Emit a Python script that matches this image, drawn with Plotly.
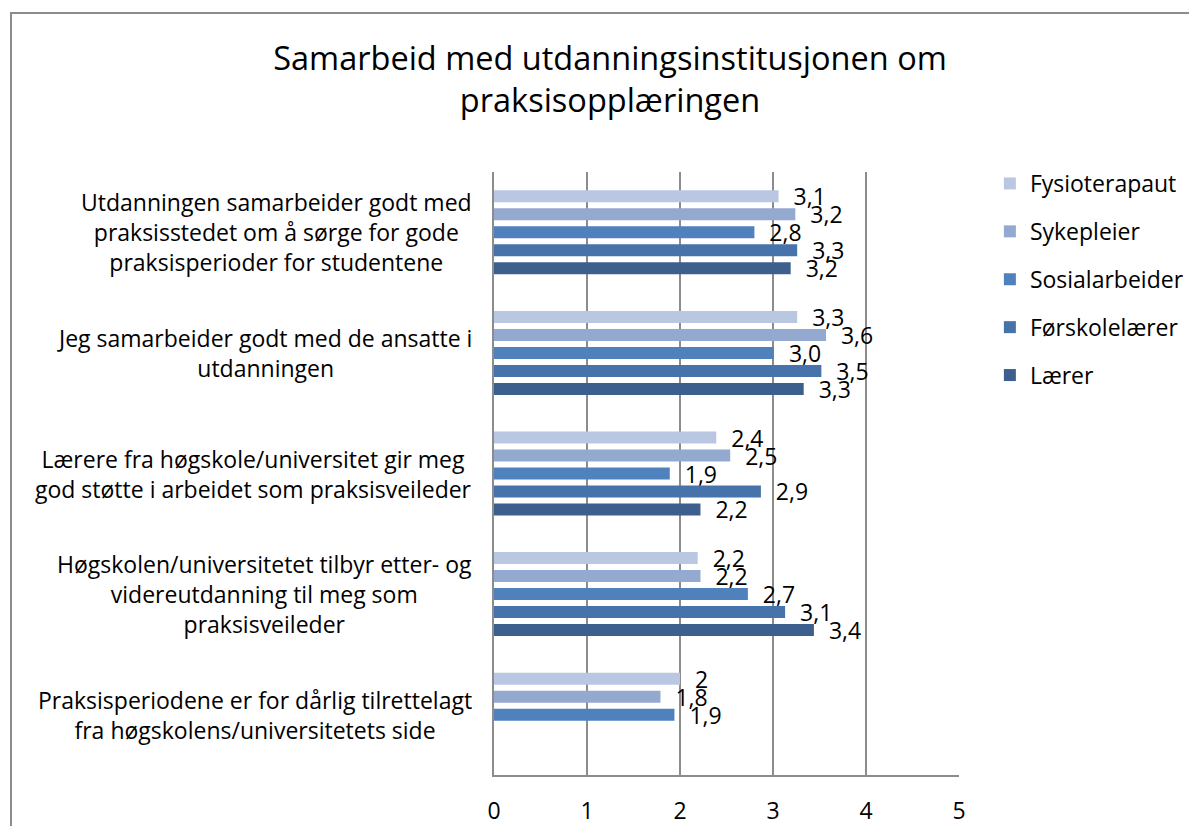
import plotly.graph_objects as go

title_lines = ["Samarbeid med utdanningsinstitusjonen om", "praksisopplæringen"]

categories = [
    "Utdanningen samarbeider godt med<br>praksisstedet om å sørge for gode<br>praksisperioder for studentene",
    "Jeg samarbeider godt med de ansatte i<br>utdanningen",
    "Lærere fra høgskole/universitet gir meg<br>god støtte i arbeidet som praksisveileder",
    "Høgskolen/universitetet tilbyr etter- og<br>videreutdanning til meg som<br>praksisveileder",
    "Praksisperiodene er for dårlig tilrettelagt<br>fra høgskolens/universitetets side",
]

series_names = ["Fysioterapaut", "Sykepleier", "Sosialarbeider", "Førskolelærer", "Lærer"]

fysioterapaut = [3.06, 3.26, 2.39, 2.19, 2.00]
sykepleier = [3.24, 3.57, 2.54, 2.22, 1.79]
sosialarbeider = [2.80, 3.01, 1.89, 2.73, 1.94]
forskolelaerer = [3.26, 3.52, 2.87, 3.13, None]
laerer = [3.19, 3.33, 2.22, 3.44, None]

fysioterapaut_labels = ["3,1", "3,3", "2,4", "2,2", "2"]
sykepleier_labels = ["3,2", "3,6", "2,5", "2,2", "1,8"]
sosialarbeider_labels = ["2,8", "3,0", "1,9", "2,7", "1,9"]
forskolelaerer_labels = ["3,3", "3,5", "2,9", "3,1", ""]
laerer_labels = ["3,2", "3,3", "2,2", "3,4", ""]

x_ticks = [0, 1, 2, 3, 4, 5]

series_values = [fysioterapaut, sykepleier, sosialarbeider, forskolelaerer, laerer]
series_labels = [fysioterapaut_labels, sykepleier_labels, sosialarbeider_labels,
                 forskolelaerer_labels, laerer_labels]
colors = ["#B9C7E2", "#93A9D0", "#4F81BD", "#4673A9", "#3C5F8E"]

FONT = "Open Sans, Lato, sans-serif"
FS = 23

# figure is placed by the page at (8, 8)
W, H = 1189, 818
ML, MR, MT, MB = 486, 238, 164, 51
PW, PH = W - ML - MR, H - MT - MB

fig = go.Figure()
for name, vals, labs, col in zip(series_names, series_values, series_labels, colors):
    fig.add_trace(go.Bar(
        y=categories, x=vals, name=name, orientation="h",
        marker=dict(color=col, line=dict(width=0)),
        text=labs, texttemplate="\u00a0\u00a0%{text}",
        textposition="outside", constraintext="none", cliponaxis=False,
        textfont=dict(family=FONT, size=FS, color="#000000"),
        legendgroup=name,
        hoverinfo="x+name",
    ))

for cat in categories:
    fig.add_annotation(
        x=0, y=cat, xref="x", yref="y", text=cat, showarrow=False,
        xanchor="right", align="center", xshift=-20,
        font=dict(family=FONT, size=FS, color="#000000"),
    )

fig.update_layout(
    width=W, height=H,
    margin=dict(l=ML, r=MR, t=MT, b=MB, pad=0, autoexpand=False),
    paper_bgcolor="#FFFFFF", plot_bgcolor="#FFFFFF",
    barmode="group", bargap=0.254, bargroupgap=0.333,
    font=dict(family=FONT, size=FS, color="#000000"),
    title=dict(text="<br>".join(title_lines), x=602 / W, xanchor="center",
               y=1 - 62 / H, yanchor="middle",
               font=dict(family=FONT, size=32.5, color="#000000")),
    legend=dict(x=1.075 - 4 / PW, xanchor="left", y=1 + 10 / PH, yanchor="top",
                traceorder="grouped", tracegroupgap=15,
                font=dict(family=FONT, size=FS, color="#000000"),
                bgcolor="rgba(0,0,0,0)"),
    showlegend=True,
)

fig.update_xaxes(
    range=[0, 5], tickvals=x_ticks, showgrid=True, gridcolor="#8C8C8C", gridwidth=1.5,
    zeroline=False, showline=True, linecolor="#8C8C8C", linewidth=1.5, automargin=False,
    ticks="", ticklabelstandoff=15, tickfont=dict(family=FONT, size=FS, color="#000000"),
    fixedrange=True,
)
fig.update_yaxes(
    type="category", autorange="reversed", showticklabels=False, showgrid=False,
    zeroline=False, showline=True, linecolor="#8C8C8C", linewidth=1.5, ticks="",
    automargin=False, fixedrange=True,
)

# outer chart border (only top/left visible in the reference)
fig.add_shape(type="rect", xref="paper", yref="paper",
              x0=(3 - ML) / PW, x1=2.0, y0=-1.0, y1=(H - MB - 5) / PH,
              line=dict(color="#8C8C8C", width=2), fillcolor="rgba(0,0,0,0)", layer="below")

fig.write_html("out.html")
